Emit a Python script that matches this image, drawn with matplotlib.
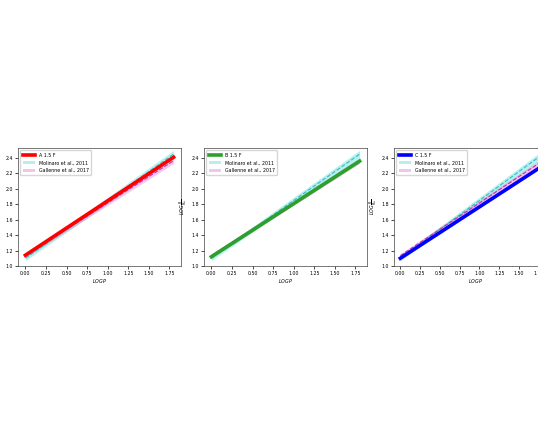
import numpy as np
import matplotlib
matplotlib.use("Agg")
import matplotlib.pyplot as plt
from matplotlib.patches import Patch
from matplotlib.lines import Line2D

logp = [0.0, 1.8]
fit_a = [1.14, 2.41]
fit_b = [1.12, 2.36]
fit_c = [1.10, 2.30]
molinaro = [1.10, 2.45]
molinaro_lo = [1.07, 2.40]
molinaro_hi = [1.13, 2.50]
gallenne = [1.134, 2.365]
gallenne_lo = [1.11, 2.33]
gallenne_hi = [1.16, 2.40]
xticks = [0.00, 0.25, 0.50, 0.75, 1.00, 1.25, 1.50, 1.75]
yticks = [1.0, 1.2, 1.4, 1.6, 1.8, 2.0, 2.2, 2.4]
panels = [("A 1.5 F", fit_a, "red"), ("B 1.5 F", fit_b, "#2ca02c"), ("C 1.5 F", fit_c, "blue")]
xlims = [(-0.09, 1.89), (-0.09, 1.89), (-0.08, 1.98)]

W, H = 538, 422
fig = plt.figure(figsize=(W / 100, H / 100), dpi=100)
lefts = [18, 204, 394]
aw, top, bot = 163, 148, 266
fs = 3.4
for (name, fit, col), lx, xl in zip(panels, lefts, xlims):
    ax = fig.add_axes([lx / W, 1 - bot / H, aw / W, (bot - top) / H])
    ax.fill_between(logp, molinaro_lo, molinaro_hi, color="#70e0e0", alpha=0.5, lw=0)
    ax.plot(logp, molinaro, color="#30c0c0", ls="--", lw=0.8)
    ax.fill_between(logp, gallenne_lo, gallenne_hi, color="#e070d0", alpha=0.4, lw=0)
    ax.plot(logp, gallenne, color="#c030b0", ls="--", lw=0.8)
    ax.plot(logp, fit, color=col, lw=2.6)
    ax.set_xlim(*xl)
    ax.set_ylim(1.0, 2.53)
    ax.set_xticks(xticks)
    ax.set_xticklabels([f"{t:.2f}" for t in xticks])
    ax.set_yticks(yticks)
    ax.set_yticklabels([f"{t:.1f}" for t in yticks])
    ax.tick_params(labelsize=fs, length=2, width=0.5, pad=1.5)
    for s in ax.spines.values():
        s.set_linewidth(0.5)
        s.set_color("#444444")
    ax.set_xlabel("$LOGP$", fontsize=fs, labelpad=1)
    ax.set_ylabel(r"$LOG\frac{R}{R_{\odot}}$", fontsize=fs, labelpad=1)
    handles = [Line2D([], [], color=col, lw=2.6),
               Patch(facecolor="#70e0e0", alpha=0.5),
               Patch(facecolor="#e070d0", alpha=0.4)]
    ax.legend(handles, [name, "Molinaro et al., 2011", "Gallenne et al., 2017"],
              loc="upper left", fontsize=fs, frameon=True, handlelength=2.6,
              borderpad=0.5, labelspacing=0.55, framealpha=0.8, edgecolor="#cccccc")

fig.savefig("out.png", dpi=100)
